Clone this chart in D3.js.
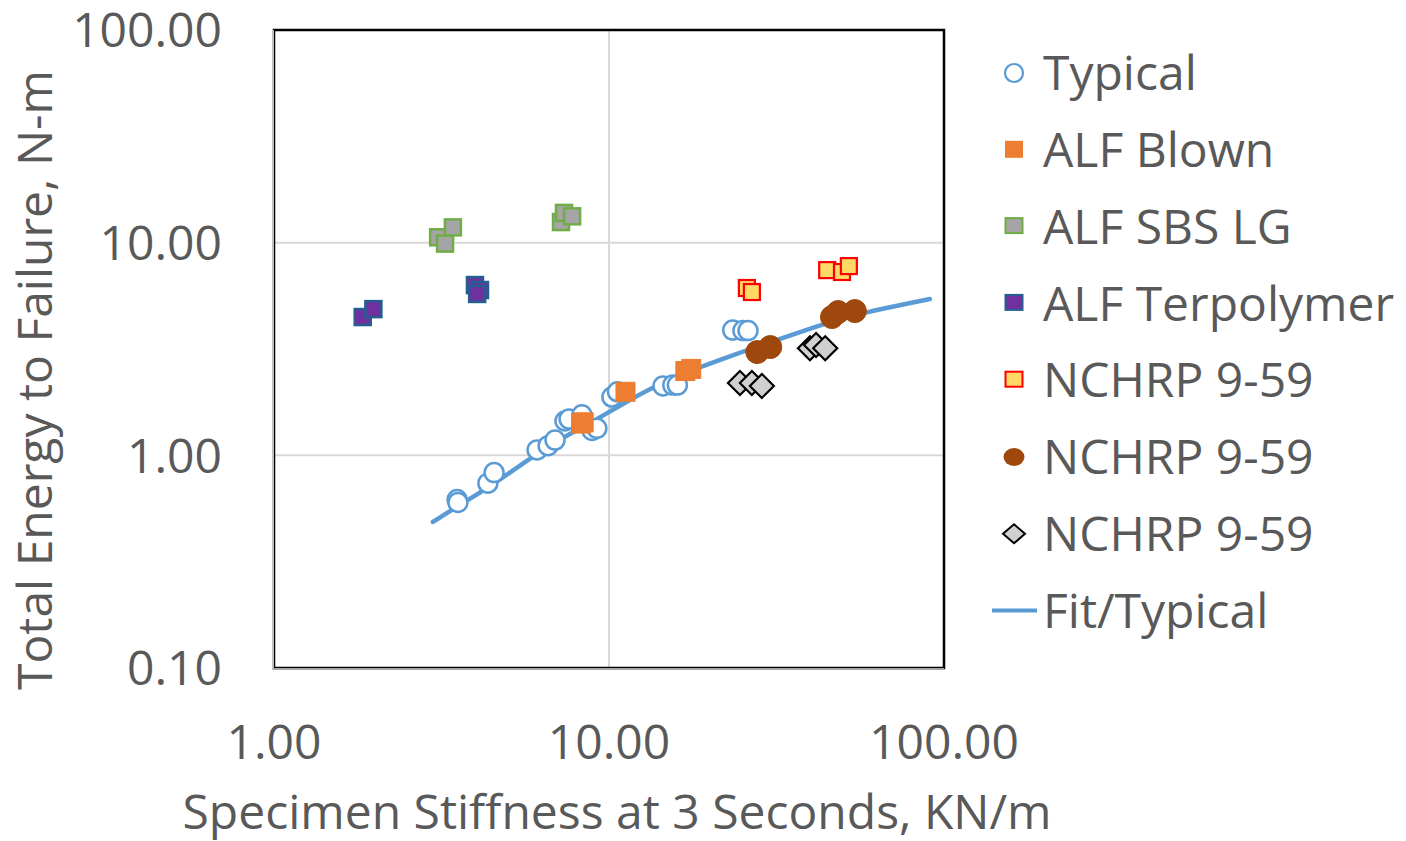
<!DOCTYPE html>
<html>
<head>
<meta charset="utf-8">
<script src="https://cdn.jsdelivr.net/npm/d3@7"></script>
<style>
  body { margin: 0; background: #fff; }
  text { font-family: "Open Sans", Lato, sans-serif; fill: #595959; }
</style>
</head>
<body>
<svg id="chart" width="1406" height="841"></svg>
<script>
// values (stiffness KN/m, energy N-m)
var typicalX = [3.52, 3.54, 4.35, 4.54, 6.1, 6.58, 6.9, 7.39, 7.6, 8.3, 8.9, 9.2, 10.2, 10.6, 14.5, 15.5, 16.0, 23.4, 25.1, 26.0];
var typicalY = [0.62, 0.60, 0.74, 0.83, 1.06, 1.11, 1.18, 1.45, 1.48, 1.55, 1.31, 1.34, 1.88, 1.99, 2.12, 2.14, 2.14, 3.88, 3.86, 3.86];
var blownX = [8.25, 8.4, 11.2, 16.9, 17.6];
var blownY = [1.41, 1.43, 1.99, 2.49, 2.55];
var sbsX = [3.09, 3.24, 3.42, 7.19, 7.34, 7.76];
var sbsY = [10.6, 9.9, 11.8, 12.5, 13.8, 13.3];
var terpX = [1.84, 1.98, 3.98, 4.12, 4.04];
var terpY = [4.47, 4.87, 6.32, 5.99, 5.74];
var nchrpSqX = [25.8, 26.7, 44.8, 49.6, 52.0];
var nchrpSqY = [6.12, 5.86, 7.43, 7.28, 7.76];
var nchrpCircX = [27.7, 30.3, 46.3, 48.3, 54.2];
var nchrpCircY = [3.06, 3.23, 4.47, 4.72, 4.77];
var nchrpDiaX = [24.6, 26.7, 28.6, 39.8, 41.5, 44.2];
var nchrpDiaY = [2.19, 2.19, 2.12, 3.19, 3.30, 3.19];
var fitX = [2.98, 3.54, 4.48, 5.61, 7.04, 8.9, 11.2, 14.9, 18.7, 23.5, 29.6, 37.2, 46.6, 58.9, 73.9, 90.8];
var fitY = [0.486, 0.578, 0.724, 0.93, 1.18, 1.43, 1.78, 2.26, 2.6, 2.96, 3.37, 3.8, 4.28, 4.72, 5.09, 5.43];
var xTicks = [1, 10, 100];
var yTicks = [0.1, 1, 10, 100];
var legendNames = ["Typical", "ALF Blown", "ALF SBS LG", "ALF Terpolymer", "NCHRP 9-59", "NCHRP 9-59", "NCHRP 9-59", "Fit/Typical"];

var svg = d3.select("#chart");
var plotLeft = 274, plotRight = 944, plotTop = 30, plotBottom = 668;
var fontSize = "48px";

var x = d3.scaleLog().domain([1, 100]).range([plotLeft, plotRight]);
var y = d3.scaleLog().domain([0.1, 100]).range([plotBottom, plotTop]);

function zip(a, b) { return a.map(function (v, i) { return [v, b[i]]; }); }

// gridlines
svg.append("g").selectAll("line").data([10])
    .enter().append("line")
    .attr("x1", function (d) { return x(d); }).attr("x2", function (d) { return x(d); })
    .attr("y1", plotTop).attr("y2", plotBottom)
    .attr("stroke", "#d9d9d9").attr("stroke-width", 2);
svg.append("g").selectAll("line").data([1, 10])
    .enter().append("line")
    .attr("y1", function (d) { return y(d); }).attr("y2", function (d) { return y(d); })
    .attr("x1", plotLeft).attr("x2", plotRight)
    .attr("stroke", "#d9d9d9").attr("stroke-width", 2);

// frame
svg.append("rect")
    .attr("x", plotLeft).attr("y", plotTop)
    .attr("width", plotRight - plotLeft).attr("height", plotBottom - plotTop)
    .attr("fill", "none").attr("stroke", "#000").attr("stroke-width", 2.5);
svg.append("line").attr("x1", plotLeft - 1).attr("x2", plotLeft - 1).attr("y1", plotTop).attr("y2", plotBottom + 2)
    .attr("stroke", "#bfbfbf").attr("stroke-width", 2);
svg.append("line").attr("x1", plotLeft - 1).attr("x2", plotRight).attr("y1", plotBottom + 1).attr("y2", plotBottom + 1)
    .attr("stroke", "#a6a6a6").attr("stroke-width", 2);

// tick labels
svg.append("g").selectAll("text").data(yTicks)
    .enter().append("text")
    .attr("x", 222).attr("y", function (d) { return y(d); })
    .attr("dy", "0.36em").attr("text-anchor", "end")
    .style("font-size", fontSize)
    .text(function (d) { return d3.format(".2f")(d); });
svg.append("g").selectAll("text").data(xTicks)
    .enter().append("text")
    .attr("x", function (d) { return x(d); }).attr("y", 742)
    .attr("dy", "0.36em").attr("text-anchor", "middle")
    .style("font-size", fontSize)
    .text(function (d) { return d3.format(".2f")(d); });

// axis titles
svg.append("text")
    .attr("transform", "translate(52,380)rotate(-90)")
    .attr("text-anchor", "middle")
    .style("font-size", fontSize)
    .text("Total Energy to Failure, N-m");
svg.append("text")
    .attr("x", 617).attr("y", 829)
    .attr("text-anchor", "middle")
    .style("font-size", fontSize)
    .text("Specimen Stiffness at 3 Seconds, KN/m");

// fit line
var line = d3.line()
    .x(function (d) { return x(d[0]); })
    .y(function (d) { return y(d[1]); })
    .curve(d3.curveBasis);
svg.append("path").datum(zip(fitX, fitY))
    .attr("d", line)
    .attr("fill", "none").attr("stroke", "#5b9bd5")
    .attr("stroke-width", 4.5).attr("stroke-linecap", "round");

var symbolsG = svg.append("g");

function drawSquares(xs, ys, size, fill, stroke, sw) {
    symbolsG.append("g").selectAll("rect").data(zip(xs, ys))
        .enter().append("rect")
        .attr("x", function (d) { return x(d[0]) - size / 2; })
        .attr("y", function (d) { return y(d[1]) - size / 2; })
        .attr("width", size).attr("height", size)
        .attr("fill", fill).attr("stroke", stroke).attr("stroke-width", sw);
}
function drawCircles(xs, ys, r, fill, stroke, sw) {
    symbolsG.append("g").selectAll("circle").data(zip(xs, ys))
        .enter().append("circle")
        .attr("cx", function (d) { return x(d[0]); })
        .attr("cy", function (d) { return y(d[1]); })
        .attr("r", r)
        .attr("fill", fill).attr("stroke", stroke).attr("stroke-width", sw);
}
function drawDiamonds(xs, ys, h, fill, stroke, sw) {
    symbolsG.append("g").selectAll("path").data(zip(xs, ys))
        .enter().append("path")
        .attr("d", function (d) {
            var cx = x(d[0]), cy = y(d[1]);
            return "M" + cx + "," + (cy - h) + "L" + (cx + h) + "," + cy + "L" + cx + "," + (cy + h) + "L" + (cx - h) + "," + cy + "Z";
        })
        .attr("fill", fill).attr("stroke", stroke).attr("stroke-width", sw);
}

drawCircles(typicalX, typicalY, 9.5, "#fff", "#5b9bd5", 2.5);
drawSquares(blownX, blownY, 19, "#ed7d31", "#ed7d31", 1);
drawSquares(sbsX, sbsY, 16, "#a5a5a5", "#70ad47", 2.5);
drawSquares(terpX, terpY, 16, "#7030a0", "#255e91", 2.5);
drawSquares(nchrpSqX, nchrpSqY, 16, "#ffd966", "#ff0000", 2.2);
drawCircles(nchrpCircX, nchrpCircY, 11.5, "#9e480e", "#9e480e", 1);
drawDiamonds(nchrpDiaX, nchrpDiaY, 12, "#d0d0d0", "#000", 2.2);

// legend
var legend = svg.append("g");
var rowY = function (i) { return 73 + i * 76.8; };
legend.selectAll("text").data(legendNames)
    .enter().append("text")
    .attr("x", 1043).attr("y", function (d, i) { return rowY(i); })
    .attr("dy", "0.36em")
    .style("font-size", fontSize)
    .text(function (d) { return d; });

var lx = 1014;
legend.append("circle").attr("cx", lx).attr("cy", rowY(0)).attr("r", 9)
    .attr("fill", "#fff").attr("stroke", "#5b9bd5").attr("stroke-width", 2.2);
legend.append("rect").attr("x", lx - 9).attr("y", rowY(1) - 9).attr("width", 18).attr("height", 17)
    .attr("fill", "#ed7d31");
legend.append("rect").attr("x", lx - 8.5).attr("y", rowY(2) - 8.5).attr("width", 17).attr("height", 15)
    .attr("fill", "#a5a5a5").attr("stroke", "#70ad47").attr("stroke-width", 2);
legend.append("rect").attr("x", lx - 8.5).attr("y", rowY(3) - 8.5).attr("width", 17).attr("height", 15)
    .attr("fill", "#7030a0").attr("stroke", "#255e91").attr("stroke-width", 2);
legend.append("rect").attr("x", lx - 8.5).attr("y", rowY(4) - 8.5).attr("width", 17).attr("height", 15)
    .attr("fill", "#ffd966").attr("stroke", "#ff0000").attr("stroke-width", 2);
legend.append("ellipse").attr("cx", lx).attr("cy", rowY(5)).attr("rx", 10.5).attr("ry", 9)
    .attr("fill", "#9e480e");
legend.append("path")
    .attr("d", "M" + lx + "," + (rowY(6) - 9.5) + "L" + (lx + 11) + "," + rowY(6) + "L" + lx + "," + (rowY(6) + 9.5) + "L" + (lx - 11) + "," + rowY(6) + "Z")
    .attr("fill", "#d0d0d0").attr("stroke", "#000").attr("stroke-width", 2);
legend.append("line").attr("x1", 992).attr("x2", 1037).attr("y1", rowY(7)).attr("y2", rowY(7))
    .attr("stroke", "#5b9bd5").attr("stroke-width", 4);
</script>
</body>
</html>
